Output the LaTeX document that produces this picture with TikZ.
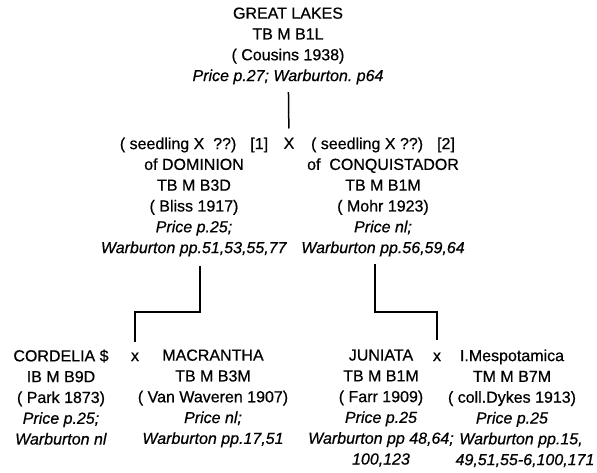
\documentclass[tikz,border=0pt]{standalone}
\usepackage{fontspec}
\setmainfont[FakeBold=0.6]{Liberation Sans}
\usepackage{tikz}
\usetikzlibrary{positioning}
\newcommand{\lit}[1]{\textit{#1}}
\frenchspacing
\tikzset{%
  plant/.style  = {align=center, inner sep=0pt, anchor=north,
    font=\fontsize{16}{20.8}\selectfont},
  cross/.style  = {inner sep=0pt, anchor=base, font=\fontsize{16}{20.8}\selectfont}, % X sign
  knee/.style   = {coordinate}, % bend of a line
  link/.style   = {draw, line width=1.5pt}
}
\begin{document}
\begin{tikzpicture}[x=1pt, y=1pt]
\useasboundingbox (0,0) rectangle (597,-472);
\draw
	node at(288,-7.3)[plant, name=greatlakes]{GREAT LAKES\\TB M B1L\\( Cousins 1938)\\\lit{Price p.27; Warburton. p64}}
	node at(289,-148.7)[cross, name=xtop]{X};
\draw
	node at(194,-137.3)[plant, name=dominion]{( seedling X\ \ ??)\hspace{14pt}[1]\\of DOMINION\\TB M B3D\\( Bliss 1917)\\\lit{Price p.25;}\\\lit{Warburton pp.51,53,55,77}}
	node at(383,-137.3)[plant, name=conquistador]{( seedling X ??)\hspace{14pt}[2]\\of\ \ CONQUISTADOR\\TB M B1M\\( Mohr 1923)\\\lit{Price nl;}\\\lit{Warburton pp.56,59,64}};
\draw
	node at(61,-349.3)[plant, name=cordelia]{CORDELIA \$\\IB M B9D\\( Park 1873)\\\lit{Price p.25;}\\\lit{Warburton nl}}
	node at(135,-361)[cross, name=xleft]{x}
	node at(213,-349.3)[plant, name=macrantha]{MACRANTHA\\TB M B3M\\( Van Waveren 1907)\\\lit{Price nl;}\\\lit{Warburton pp.17,51}}
	node at(381,-349.3)[plant, name=juniata]{JUNIATA\\TB M B1M\\( Farr 1909)\\\lit{Price p.25}\\\lit{Warburton pp 48,64;}\\\lit{100,123}}
	node at(437,-361)[cross, name=xright]{x}
	node at(512,-349.3)[plant, name=mespotamica]{I.Mespotamica\\TM M B7M\\( coll.Dykes 1913)\\\lit{Price p.25}\\\hspace*{18pt}\lit{Warburton pp.15,}\\\hspace*{26pt}\lit{49,51,55-6,100,171}};
\coordinate[knee] (kneeL) at (200,-312);
\coordinate[knee] (kneeR) at (375,-312);
\path[link, shorten <=7.5pt, shorten >=9pt] (greatlakes) -- (xtop);
\path[link] ([shift={(6,-9)}]dominion.south) -- (kneeL) -| ([yshift=10pt]xleft.north);
\path[link] ([shift={(-8,-7)}]conquistador.south) -- (kneeR) -| ([yshift=12pt]xright.north);
\end{tikzpicture}
\end{document}
